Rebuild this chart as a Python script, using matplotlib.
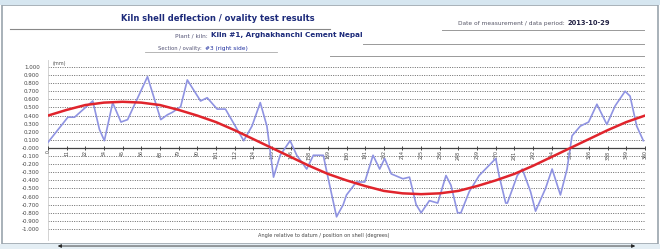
import matplotlib.pyplot as plt
import numpy as np

# measured deflection (mm) vs angle around the shell (deg)
blue_angle = [0, 12, 16, 27, 31, 34, 39, 44, 48, 60, 68, 72, 75, 80, 84, 92, 96, 102,
              107, 118, 123, 128, 132, 136, 140, 146, 150, 156, 160, 166, 169, 174, 178,
              180, 186, 191, 196, 200, 203, 207, 214, 218, 222, 225, 230, 235, 240, 243,
              247, 249, 254, 260, 270, 272, 276, 277, 283, 286, 291, 294, 300, 304, 309,
              313, 316, 321, 326, 331, 337, 342, 348, 351, 355, 359]
blue_val = [0.07, 0.38, 0.38, 0.58, 0.23, 0.09, 0.56, 0.32, 0.35, 0.88, 0.35, 0.41, 0.44,
            0.51, 0.84, 0.58, 0.62, 0.48, 0.48, 0.09, 0.27, 0.56, 0.27, -0.36, -0.09, 0.09,
            -0.09, -0.26, -0.09, -0.09, -0.38, -0.85, -0.70, -0.58, -0.42, -0.42, -0.09,
            -0.26, -0.13, -0.32, -0.38, -0.36, -0.70, -0.80, -0.65, -0.68, -0.34, -0.46,
            -0.80, -0.80, -0.54, -0.34, -0.13, -0.34, -0.68, -0.68, -0.34, -0.26, -0.54,
            -0.78, -0.50, -0.26, -0.58, -0.26, 0.15, 0.27, 0.32, 0.54, 0.29, 0.52, 0.70,
            0.64, 0.27, 0.09]

# fitted curve at the 32 measuring points (+ closing point)
fit_angle = [0, 11.25, 22.5, 33.75, 45, 56.25, 67.5, 78.75, 90, 101.25, 112.5, 123.75,
             135, 146.25, 157.5, 168.75, 180, 191.25, 202.5, 213.75, 225, 236.25, 247.5,
             258.75, 270, 281.25, 292.5, 303.75, 315, 326.25, 337.5, 348.75, 360]
fit_val = [0.40, 0.47, 0.53, 0.56, 0.57, 0.56, 0.53, 0.47, 0.40, 0.32, 0.22, 0.11,
           0.00, -0.11, -0.22, -0.32, -0.40, -0.47, -0.53, -0.56, -0.57, -0.56, -0.53,
           -0.47, -0.40, -0.32, -0.22, -0.11, 0.00, 0.11, 0.22, 0.32, 0.40]

x_labels = [str(int(round(a))) for a in fit_angle]
y_ticks = [round(v, 1) for v in np.arange(-1.0, 1.01, 0.1)]

fig = plt.figure(figsize=(6.6, 2.49), dpi=100)

# page frame of the scanned sheet (kept behind the axes)
fig.patches.append(plt.Rectangle((0.003, 0.02), 0.994, 0.96, transform=fig.transFigure,
                                 fill=False, ec='#9aa4ad', lw=1.2, zorder=-1))
fig.patches.append(plt.Rectangle((0, 0.98), 1, 0.02, transform=fig.transFigure,
                                 fc='#d6e6f0', ec='none', zorder=-1))
fig.patches.append(plt.Rectangle((0, 0), 1, 0.02, transform=fig.transFigure,
                                 fc='#e4eef4', ec='none', zorder=-1))

# header
fig.text(0.33, 0.915, 'Kiln shell deflection / ovality test results', ha='center',
         fontsize=6, color='#1c2a7a', fontweight='bold')
fig.lines.append(plt.Line2D([0.015, 0.5], [0.885, 0.885], transform=fig.transFigure,
                            color='#888888', lw=0.8))
fig.text(0.315, 0.85, 'Plant / kiln:', ha='right', fontsize=4.2, color='#555577')
fig.text(0.32, 0.85, 'Kiln #1, Arghakhanchi Cement Nepal', ha='left', fontsize=5.2,
         color='#1c2a7a', fontweight='bold')
fig.text(0.305, 0.8, 'Section / ovality:', ha='right', fontsize=3.8, color='#555577')
fig.text(0.31, 0.8, '#3 (right side)', ha='left', fontsize=4.2, color='#2030a0')
fig.lines.append(plt.Line2D([0.22, 0.42], [0.793, 0.793], transform=fig.transFigure,
                            color='#aaaaaa', lw=0.6))
fig.text(0.855, 0.9, 'Date of measurement / data period:', ha='right', fontsize=4.2,
         color='#555566')
fig.text(0.86, 0.9, '2013-10-29', ha='left', fontsize=4.8, color='#222244',
         fontweight='bold')
fig.lines.append(plt.Line2D([0.67, 0.975], [0.88, 0.88], transform=fig.transFigure,
                            color='#999999', lw=0.7))
fig.lines.append(plt.Line2D([0.55, 0.975], [0.825, 0.825], transform=fig.transFigure,
                            color='#999999', lw=0.7))
fig.lines.append(plt.Line2D([0.5, 0.975], [0.775, 0.775], transform=fig.transFigure,
                            color='#999999', lw=0.7))

ax = fig.add_axes([48 / 660, 1 - 240 / 249, 597 / 660, 180 / 249])
ax.set_xlim(0, 360)
ax.set_ylim(-1.136, 1.086)
for s in ['top', 'right', 'bottom']:
    ax.spines[s].set_visible(False)
ax.spines['left'].set_color('#cccccc')
ax.spines['left'].set_linewidth(0.6)

for v in y_ticks:
    if v != 0:
        ax.axhline(v, color='#555555', lw=0.6, ls=(0, (1.2, 1.6)), zorder=1)
ax.axhline(0, color='#444444', lw=0.9, zorder=2)
ax.set_yticks(y_ticks)
ax.set_yticklabels(['%.3f' % v for v in y_ticks], fontsize=4, color='#444444')
ax.tick_params(axis='y', length=0, pad=6)
ax.set_xticks([])
ax.text(3, 1.03, '(mm)', fontsize=3.5, color='#555555')

# point markers and rotated labels along the zero line
ax.plot(fit_angle, [0] * len(fit_angle), ls='none', marker='|', ms=3, color='#444444',
        mew=0.7, zorder=3)
for a, lab in zip(fit_angle, x_labels):
    ax.text(a, -0.03, lab, rotation=90, ha='center', va='top', fontsize=3.4,
            color='#444444')

ax.plot(blue_angle, blue_val, color='#8f93e2', lw=1.2, zorder=4)
ax.plot(fit_angle, fit_val, color='#e0242c', lw=1.8, zorder=5)

fig.text(0.49, 0.05, 'Angle relative to datum / position on shell (degrees)',
         ha='center', fontsize=3.6, color='#444444')
ax.annotate('', xy=(55 / 660, 0.012), xytext=(638 / 660, 0.012),
            xycoords='figure fraction', textcoords='figure fraction',
            arrowprops=dict(arrowstyle='<|-|>', color='#222222', lw=0.6,
                            mutation_scale=5))

fig.savefig('out.png', dpi=100)
